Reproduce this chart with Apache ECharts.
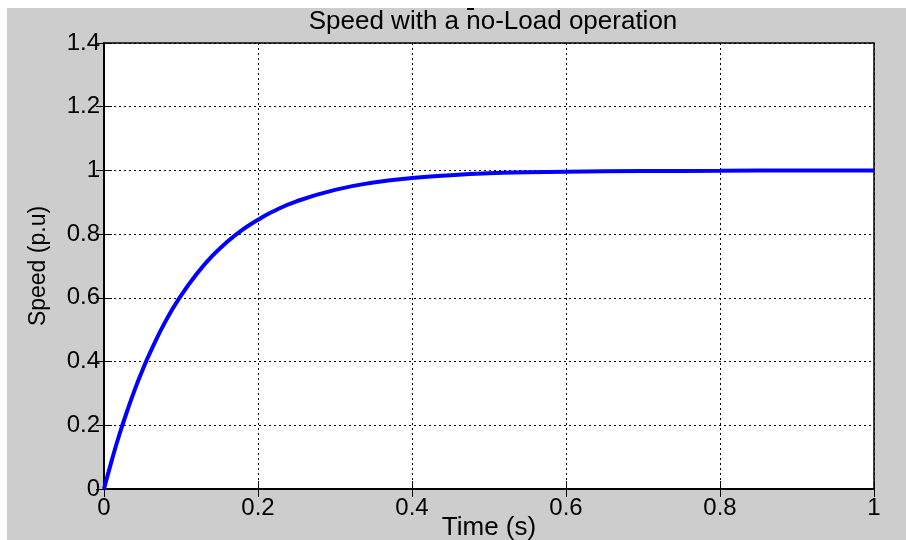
<!DOCTYPE html>
<html><head><meta charset="utf-8">
<script src="https://cdn.jsdelivr.net/npm/echarts@6/dist/echarts.min.js"></script>
<style>html,body{margin:0;padding:0;background:#fff}#c{width:906px;height:540px}</style>
</head><body><div id="c"></div>
<script>
var titleText = 'Speed with a no-Load operation';
var xName = 'Time (s)';
var yName = 'Speed (p.u)';
var timeS = [0, 0.01, 0.02, 0.03, 0.04, 0.05, 0.06, 0.08, 0.10, 0.12, 0.14, 0.16, 0.18, 0.20, 0.22, 0.25, 0.30, 0.35, 0.40, 0.45, 0.50, 0.55, 0.60, 0.70, 0.80, 0.90, 1.00];
var speedPu = [0, 0.089, 0.171, 0.244, 0.312, 0.373, 0.429, 0.527, 0.607, 0.674, 0.730, 0.776, 0.814, 0.845, 0.872, 0.903, 0.939, 0.962, 0.976, 0.985, 0.991, 0.994, 0.996, 0.998, 0.999, 1.0, 1.0];
var seriesData = timeS.map(function (t, i) { return [t, speedPu[i]]; });
var font = 'Liberation Sans, Arial, sans-serif';
var chart = echarts.init(document.getElementById('c'));
var gridLine = { show: true, lineStyle: { color: '#000', type: [2, 3], width: 1 } };
var axisLine = { show: true, lineStyle: { color: '#000', width: 1.5 } };
var tick = { show: true, inside: true, length: 8, lineStyle: { color: '#000', width: 1 } };
chart.setOption({
  backgroundColor: '#fff',
  animation: false,
  graphic: [
    { type: 'rect', z: -10, shape: { x: 7, y: 8, width: 899, height: 532 }, style: { fill: '#cdcdcd' } },
    { type: 'rect', z: 10, shape: { x: 467, y: 8, width: 7, height: 2 }, style: { fill: '#000' } }
  ],
  title: { text: titleText, left: 488, top: 4, textAlign: 'center',
    textStyle: { fontFamily: font, fontSize: 26, fontWeight: 'normal', color: '#000' } },
  grid: { left: 104, right: 32, top: 43, bottom: 51, show: true, backgroundColor: '#fff', borderColor: '#000', borderWidth: 1.5, containLabel: false, outerBoundsMode: 'none' },
  xAxis: [
    { type: 'value', min: 0, max: 1, interval: 0.2, position: 'bottom',
      name: xName, nameLocation: 'middle', nameGap: 26, nameMoveOverlap: false,
      nameTextStyle: { fontFamily: font, fontSize: 26, color: '#000' },
      axisLine: axisLine, axisTick: tick, splitLine: gridLine,
      axisLabel: { fontFamily: font, fontSize: 24, color: '#000', margin: 7 } },
    { type: 'value', min: 0, max: 1, interval: 0.2, position: 'top',
      axisLine: axisLine, axisTick: tick, splitLine: { show: false }, axisLabel: { show: false } }
  ],
  yAxis: [
    { type: 'value', min: 0, max: 1.4, interval: 0.2, position: 'left',
      name: yName, nameLocation: 'middle', nameGap: 54, nameMoveOverlap: false,
      nameTextStyle: { fontFamily: font, fontSize: 23, color: '#000' },
      axisLine: axisLine, axisTick: tick, splitLine: gridLine,
      axisLabel: { fontFamily: font, fontSize: 24, color: '#000', margin: 4 } },
    { type: 'value', min: 0, max: 1.4, interval: 0.2, position: 'right',
      axisLine: axisLine, axisTick: tick, splitLine: { show: false }, axisLabel: { show: false } }
  ],
  series: [{
    type: 'line', data: seriesData, smooth: true, showSymbol: false,
    lineStyle: { color: '#0000ff', width: 4 }, z: 5
  }]
});
</script></body></html>
